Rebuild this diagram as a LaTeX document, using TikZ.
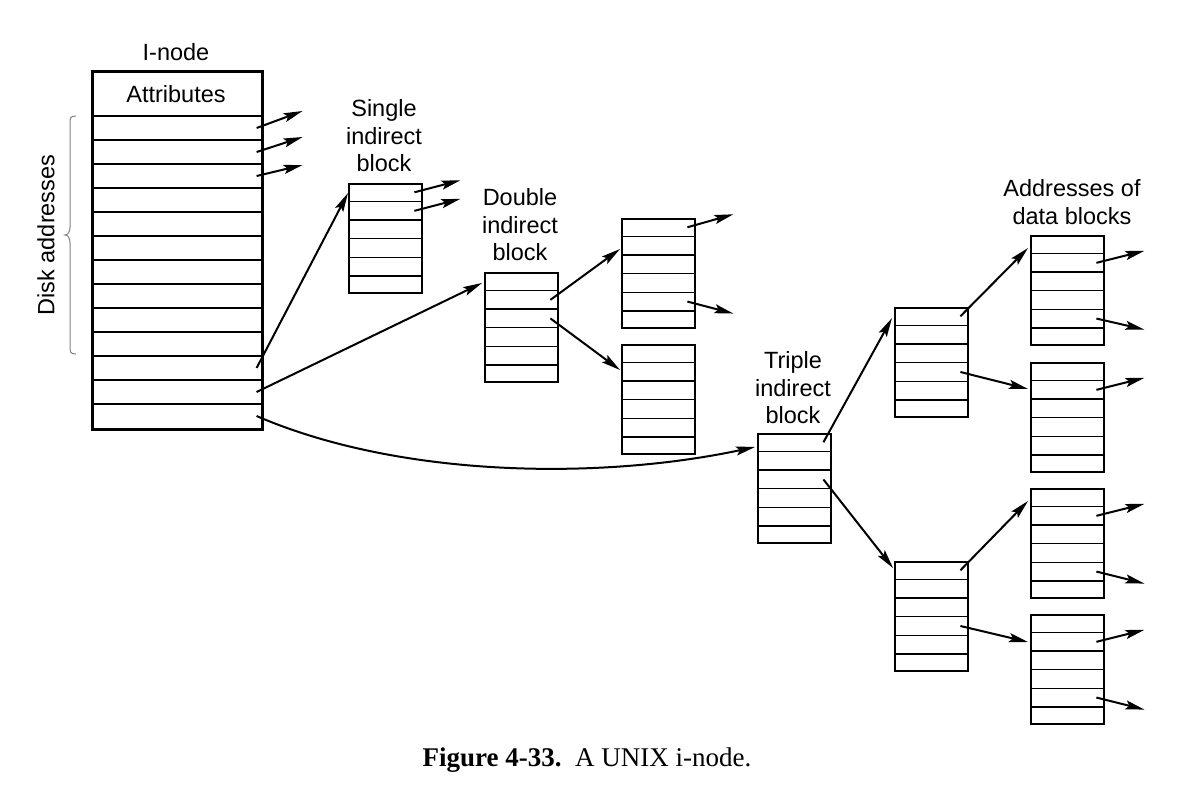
\documentclass[tikz,border=0pt]{standalone}
\usepackage{fontspec}
\setmainfont{Liberation Sans}
\newfontfamily\capfont{Liberation Serif}
\usetikzlibrary{arrows.meta,calc}

% A pointer block: six equal slots, with a coordinate near the right end of each slot
\newcommand{\ptrblock}[3]{%
  \node[blockbox] (#1) at (#2,#3) {};
  \foreach \k in {1,...,5}{
    \draw[rowline] ($(#1.north west)!\k/6!(#1.south west)$) -- ($(#1.north east)!\k/6!(#1.south east)$);
  }
  \foreach \k in {0,...,5}{
    \coordinate (#1-r\k) at ($(#1.north east)!{(\k+0.5)/6}!(#1.south east)+(-9,0)$);
  }
}

\begin{document}
\begin{tikzpicture}[x=1pt,y=-1pt,
  lbl/.style={font=\fontsize{23.5}{27.5}\selectfont, align=center, inner sep=0pt},
  blockbox/.style={draw, line width=2.4pt, minimum width=73pt, minimum height=109pt, inner sep=0pt, anchor=north west},
  rowline/.style={line width=1.5pt},
  ptr/.style={line width=2pt, -{Stealth[length=19pt,width=9pt,inset=3.5pt]}},
  bracestyle/.style={draw=gray, line width=1pt},
]
\useasboundingbox (0,0) rectangle (1203,804);

% ---- the i-node ----
\node[draw, line width=2.6pt, minimum width=170pt, minimum height=358pt, inner sep=0pt, anchor=north west] (inode) at (91,70) {};
\foreach \y/\w in {116/2.6, 140/1.4, 164/1.4, 188/1.9, 212/2.6, 236/2.6, 260/2.6, 284/2.6, 308/2.6, 332/1.4, 356/1.4, 380/1.4, 404/2.6}{
  \draw[line width=\w pt] (91,\y) -- (261,\y);
}
\foreach \k in {0,...,12}{
  \coordinate (inode-r\k) at ($(inode.north east)+(-7,{58+24*\k})$);
}
\node[lbl, anchor=base] (ilabel) at (176,60) {I-node};
\node[lbl, anchor=base] (attr) at (176,102) {Attributes};

% brace over the direct disk addresses
\draw[bracestyle] (76,116) .. controls (70,116) and (70,118) .. (70,124) -- (70,227)
  .. controls (70,232) and (68,235) .. (65,235) .. controls (68,235) and (70,238) .. (70,243)
  -- (70,346) .. controls (70,352) and (70,354) .. (76,354);
\node[lbl, rotate=90] (disk) at (46,235) {Disk addresses};

% ---- indirect blocks ----
\ptrblock{single}{348}{183}
\ptrblock{dbl}{484}{272}
\ptrblock{dc1}{621}{218}
\ptrblock{dc2}{621}{344}
\ptrblock{triple}{757}{433}
\ptrblock{mid1}{894}{307}
\ptrblock{mid2}{894}{561}
\ptrblock{data1}{1030}{235}
\ptrblock{data2}{1030}{362}
\ptrblock{data3}{1030}{488}
\ptrblock{data4}{1030}{614}

\node[lbl] (singlelbl) at (384,136) {Single\\indirect\\block};
\node[lbl] (dbllbl) at (520,225) {Double\\indirect\\block};
\node[lbl] (triplelbl) at (793,388) {Triple\\indirect\\block};
\node[lbl] (datalbl) at (1072,202) {Addresses of\\data blocks};

% ---- pointers ----
\draw[ptr] (inode-r0) -- ++(46,-17);
\draw[ptr] (inode-r1) -- ++(46,-15);
\draw[ptr] (inode-r2) -- ++(46,-11);
\draw[ptr] (inode-r10) -- ($(single.north west)+(0,10)$);
\draw[ptr] (inode-r11) -- ($(dbl.north west)+(-2,11)$);
\draw[ptr] (inode-r12) .. controls (400,478) and (600,480) .. ($(triple.north west)+(-2,14)$);

\draw[ptr] (single-r0) -- ++(46,-12);
\draw[ptr] (single-r1) -- ++(46,-12);

\draw[ptr] (dbl-r1) -- ($(dc1.north west)+(-1,31)$);
\draw[ptr] (dbl-r2) -- ($(dc2.north west)+(-1,26)$);
\draw[ptr] (dc1-r0) -- ++(46,-13);
\draw[ptr] (dc1-r4) -- ++(46,12);

\draw[ptr] (triple-r0) -- ($(mid1.north west)+(-2,11)$);
\draw[ptr] (triple-r2) -- ($(mid2.north west)+(-1,7)$);

\draw[ptr] (mid1-r0) -- ($(data1.north west)+(-2,13)$);
\draw[ptr] (mid1-r3) -- ($(data2.north west)+(-2,27)$);
\draw[ptr] (mid2-r0) -- ($(data3.north west)+(-2,13)$);
\draw[ptr] (mid2-r3) -- ($(data4.north west)+(-2,28)$);

\draw[ptr] (data1-r1) -- ++(48,-12);
\draw[ptr] (data1-r4) -- ++(48,11);
\draw[ptr] (data2-r1) -- ++(48,-12);
\draw[ptr] (data3-r1) -- ++(48,-12);
\draw[ptr] (data3-r4) -- ++(48,12);
\draw[ptr] (data4-r1) -- ++(48,-12);
\draw[ptr] (data4-r4) -- ++(48,12);

% ---- caption ----
\node[font=\capfont\fontsize{27}{32}\selectfont, anchor=base, inner sep=0pt] (caption) at (587,766) {\textbf{Figure 4-33.}\ \ A UNIX i-node.};
\end{tikzpicture}
\end{document}
